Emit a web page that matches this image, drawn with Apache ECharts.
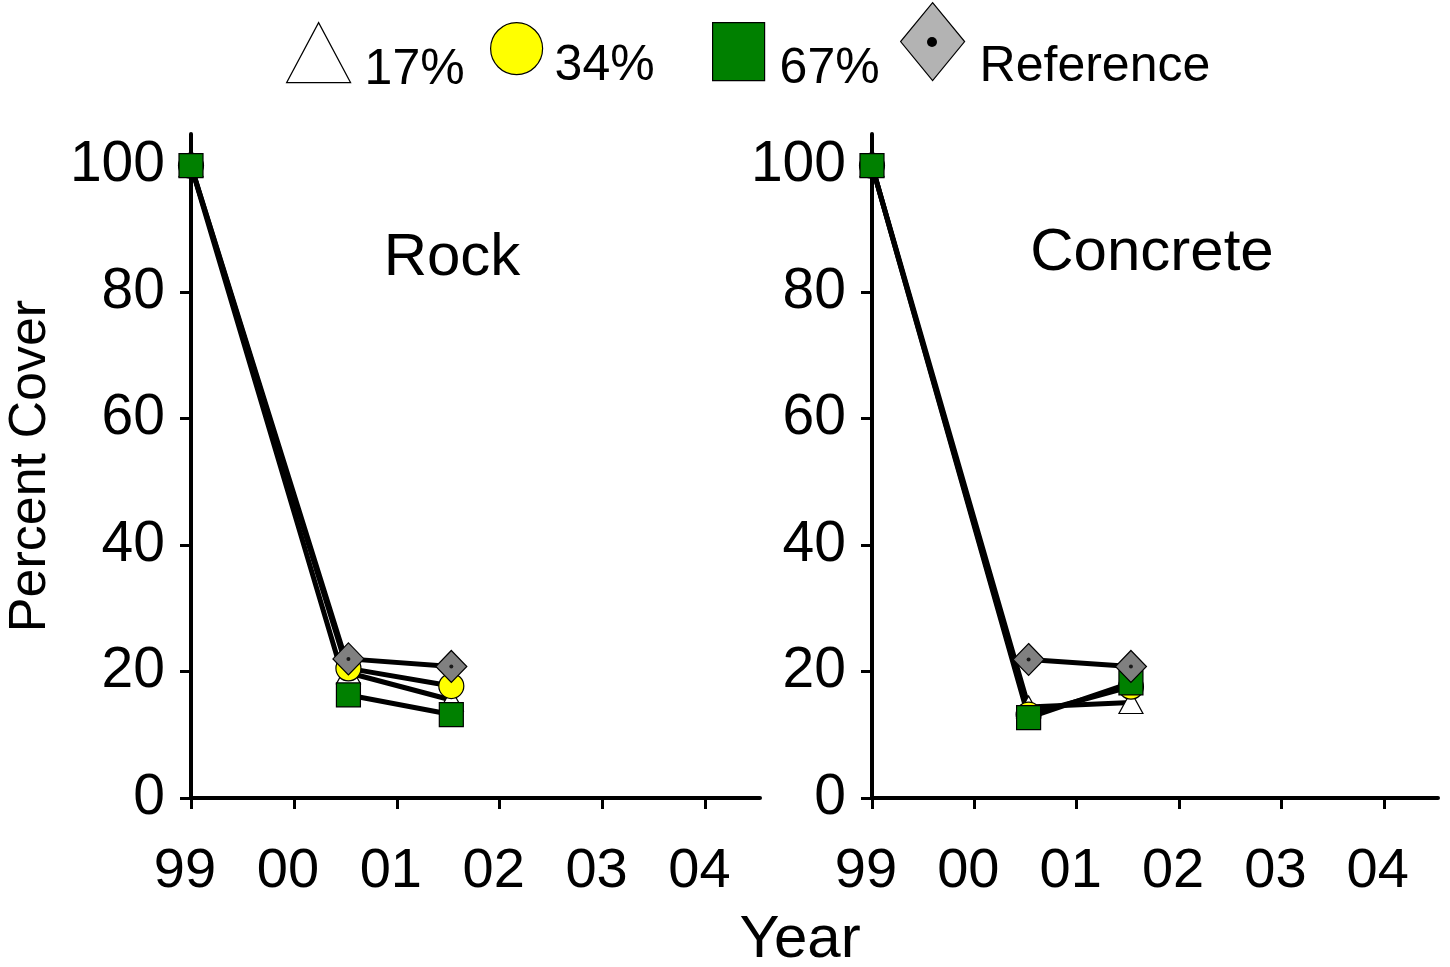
<!DOCTYPE html>
<html>
<head>
<meta charset="utf-8">
<title>Percent Cover — Rock and Concrete</title>
<script src="https://cdn.jsdelivr.net/npm/echarts@6/dist/echarts.min.js"></script>
<style>
  html, body { margin: 0; padding: 0; background: #fff; }
  #chart { width: 1450px; height: 967px; }
</style>
</head>
<body>
<div id="chart"></div>
<script>
// Tick labels for the year axis (two-digit years) and the percent axis
const yearTicks = ['99', '00', '01', '02', '03', '04'];
const percentTicks = [0, 20, 40, 60, 80, 100];

// Sampling dates, in decimal years
const sampleYears = [1999, 2000.53, 2001.53];

// Percent cover on rock substrate
const rock17 = [100, 19.8, 15.5];
const rock34 = [100, 20.5, 17.7];
const rock67 = [100, 16.3, 13.2];
const rockRef = [null, 22.0, 20.8];

// Percent cover on concrete substrate
const concrete17 = [100, 14.4, 15.1];
const concrete34 = [100, 13.2, 17.6];
const concrete67 = [100, 12.7, 18.2];
const concreteRef = [null, 21.9, 20.8];

const FONT = '"Liberation Sans", Arial, Helvetica, sans-serif';
const yearValues = yearTicks.map((t, i) => 1999 + i);

const styles = {
  '17%': { symbol: 'triangle', size: [24, 22], color: '#ffffff' },
  '34%': { symbol: 'circle', size: [25, 25], color: '#ffff00' },
  '67%': { symbol: 'rect', size: [24, 24], color: '#008000' },
  'Reference': { symbol: 'diamond', size: [31, 32], color: '#808080' }
};

function pairs(values) {
  const out = [];
  values.forEach((v, i) => { if (v !== null) out.push([sampleYears[i], v]); });
  return out;
}

function lineSeries(name, values, idx) {
  const s = styles[name];
  return {
    type: 'line', name: name,
    xAxisIndex: idx, yAxisIndex: idx,
    data: pairs(values),
    symbol: s.symbol, symbolSize: s.size, showSymbol: true,
    itemStyle: { color: s.color, borderColor: '#000', borderWidth: 1.2 },
    lineStyle: { color: '#000', width: 5 },
    emphasis: { disabled: true },
    z: 2
  };
}

// small black centre dot on the reference diamonds
function dotSeries(values, idx) {
  return {
    type: 'scatter', name: 'refDot',
    xAxisIndex: idx, yAxisIndex: idx,
    data: pairs(values),
    symbol: 'circle', symbolSize: 4,
    itemStyle: { color: '#000' },
    emphasis: { disabled: true },
    z: 3
  };
}

function xAxis(idx) {
  return {
    type: 'value', gridIndex: idx,
    min: 1999, max: 2004.53, interval: 1,
    axisLine: { show: true, onZero: false, lineStyle: { color: '#000', width: 4 } },
    axisTick: { show: true, length: 11, customValues: yearValues, lineStyle: { color: '#000', width: 3 } },
    axisLabel: {
      customValues: yearValues,
      formatter: v => yearTicks[yearValues.indexOf(Math.round(v))],
      fontSize: 56, fontFamily: FONT, color: '#000', margin: 46,
      padding: [0, 12, 0, 0]
    },
    splitLine: { show: false }
  };
}

function yAxis(idx, name) {
  return {
    type: 'value', gridIndex: idx,
    min: 0, max: 105, interval: 20,
    name: name, nameLocation: 'middle', nameGap: 134, nameRotate: 90,
    nameTextStyle: { fontSize: 52, fontFamily: FONT, color: '#000' },
    axisLine: { show: true, lineStyle: { color: '#000', width: 4 } },
    axisTick: { show: true, length: 11, customValues: percentTicks, lineStyle: { color: '#000', width: 3 } },
    axisLabel: {
      customValues: percentTicks,
      fontSize: 57, fontFamily: FONT, color: '#000', margin: 26,
      padding: [20, 0, 0, 0]
    },
    splitLine: { show: false }
  };
}

function legend(name, left, top, w, h, padTop, padLeft, itemColor) {
  const item = { name: name };
  if (itemColor) item.itemStyle = { color: itemColor };
  return {
    data: [item], left: left, top: top, padding: 0,
    orient: 'horizontal', selectedMode: false,
    icon: styles[name].symbol,
    itemWidth: w, itemHeight: h,
    itemStyle: { borderColor: '#000', borderWidth: 1.2 },
    formatter: '{t|{name}}',
    textStyle: {
      fontSize: 50, fontFamily: FONT, color: '#000',
      rich: { t: { fontSize: 50, fontFamily: FONT, color: '#000', padding: [padTop, 0, 0, padLeft] } }
    }
  };
}

const chart = echarts.init(document.getElementById('chart'), null, { renderer: 'canvas' });

chart.setOption({
  animation: false,
  backgroundColor: '#ffffff',
  grid: [
    { left: 191, top: 134, width: 569, height: 664, containLabel: false, outerBoundsMode: 'none' },
    { left: 872, top: 134, width: 566, height: 664, containLabel: false, outerBoundsMode: 'none' }
  ],
  xAxis: [xAxis(0), xAxis(1)],
  yAxis: [yAxis(0, 'Percent Cover'), yAxis(1, '')],
  legend: [
    legend('17%', 286, 22, 64, 60, 36, 9),
    legend('34%', 490, 22, 52, 58, 36, 7),
    legend('67%', 712, 22, 52, 58, 36, 10),
    legend('Reference', 900, 2, 64, 78, 52, 10, '#b3b3b3')
  ],
  graphic: [
    { type: 'circle', shape: { cx: 932, cy: 42, r: 5 }, style: { fill: '#000' }, z: 100 },
    { type: 'text', x: 452, y: 258, style: { text: 'Rock', font: '60px ' + FONT, fill: '#000', align: 'center', verticalAlign: 'middle' } },
    { type: 'text', x: 1152, y: 253, style: { text: 'Concrete', font: '60px ' + FONT, fill: '#000', align: 'center', verticalAlign: 'middle' } },
    { type: 'text', x: 800, y: 940, style: { text: 'Year', font: '60px ' + FONT, fill: '#000', align: 'center', verticalAlign: 'middle' } }
  ],
  series: [
    lineSeries('17%', rock17, 0),
    lineSeries('34%', rock34, 0),
    lineSeries('67%', rock67, 0),
    lineSeries('Reference', rockRef, 0),
    dotSeries(rockRef, 0),
    lineSeries('17%', concrete17, 1),
    lineSeries('34%', concrete34, 1),
    lineSeries('67%', concrete67, 1),
    lineSeries('Reference', concreteRef, 1),
    dotSeries(concreteRef, 1)
  ]
});
</script>
</body>
</html>
